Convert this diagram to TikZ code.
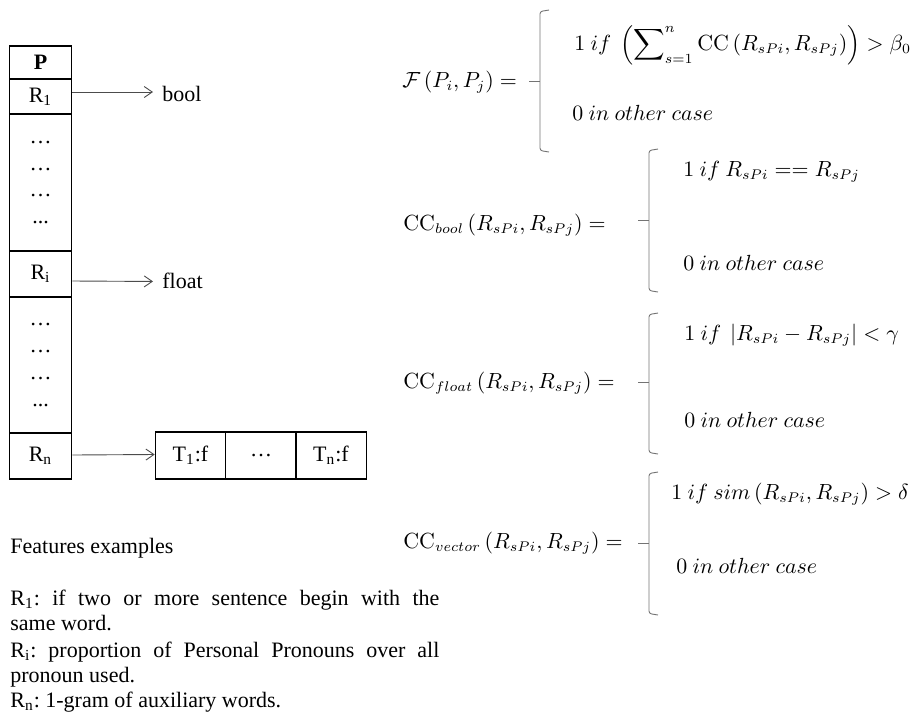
\documentclass[tikz,border=0pt]{standalone}
\usepackage{amsmath}
\usepackage[no-math]{fontspec}
\setmainfont{Liberation Serif}
\usetikzlibrary{arrows.meta}
\frenchspacing
\newcommand\mybrk[4]{%
  \draw[brk] (#1+9,#2) -- (#1,#2+1.5) -- (#1,#4-1.5) -- (#1+9,#4);
  \draw[brk] (#1-11,#3) -- (#1,#3);}
\newcommand\RS[1]{R\textsubscript{#1}}
\begin{document}
\begin{tikzpicture}[x=0.5pt,y=-0.5pt,
  font=\fontsize{11}{13}\selectfont,
  cell/.style={draw, line width=0.6pt, inner sep=0, minimum width=31.2pt},
  tcell/.style={draw, line width=0.6pt, inner sep=0, minimum width=35.2pt, minimum height=23.5pt},
  arr/.style={draw=black!70, line width=0.45pt, -{Straight Barb[length=4pt,width=5.5pt]}},
  brk/.style={draw=black!55, line width=0.45pt, rounded corners=1.2pt},
  eq/.style={anchor=west, inner sep=0, font=\fontsize{10.5}{12.5}\selectfont},
  lbl/.style={anchor=west, inner sep=0},
  txt/.style={anchor=base west, inner sep=0}]
\useasboundingbox (0,0) rectangle (917,719);
% left table
\node[cell, minimum height=16.5pt, font=\fontsize{11}{13}\selectfont\bfseries] (P) at (40.5,62.5) {P};
\node[cell, minimum height=17.5pt] (R1) at (40.5,96.5) {\RS{1}};
\node[cell, minimum height=68.5pt, align=center, font=\fontsize{11}{13.35}\selectfont] (D1) at (40.5,182.5) {\ldots\\\ldots\\\ldots\\...};
\node[cell, minimum height=23pt] (Ri) at (40.5,274) {\RS{i}};
\node[cell, minimum height=68.3pt, align=center, font=\fontsize{11}{13.35}\selectfont] (D2) at (40.5,365) {\ldots\\\ldots\\\ldots\\...};
\node[cell, minimum height=23pt] (Rn) at (40.5,456) {\RS{n}};
% type labels
\node[lbl] (bool) at (162,94) {bool};
\node[lbl] (float) at (162,281) {float};
\node[tcell] (T1) at (190.5,455.5) {T\textsubscript{1}:f};
\node[tcell] (T2) at (261,455.5) {\ldots};
\node[tcell] (T3) at (331,455.5) {T\textsubscript{n}:f};
\draw[arr, shorten >=4.5pt] ([yshift=2.25pt]R1.east) -- ([yshift=1pt]bool.west);
\draw[arr, shorten >=4.5pt] ([yshift=-3.5pt]Ri.east) -- ([yshift=-0.25pt]float.west);
\draw[arr] ([yshift=0.5pt]Rn.east) -- ([yshift=0.5pt]T1.west);
% bottom text
\node[txt] (fe) at (10,553) {Features examples};
\node[txt] (l1) at (10,605) {\makebox[214.5pt][s]{\RS{1}: if two or more sentence begin with the}};
\node[txt] (l2) at (10,630) {same word.};
\node[txt] (l3) at (10,657) {\makebox[214.5pt][s]{\RS{i}: proportion of Personal Pronouns over all}};
\node[txt] (l4) at (10,682) {pronoun used.};
\node[txt] (l5) at (10,707) {\RS{n}: 1-gram of auxiliary words.};
% formulas
\node[eq] (F) at (402,82) {$\mathcal{F}\left(P_i,P_j\right)=$};
\mybrk{540}{10}{81}{152}
\node[eq] (F1) at (574,45) {$1\ if\ \left(\displaystyle\sum\nolimits_{s=1}^{n}\mathrm{CC}\left(R_{sPi},R_{sPj}\right)\right)>\beta_0$};
\node[eq] (F2) at (572,113) {$0\ in\ other\ case$};
\node[eq] (CB) at (403,225) {$\mathrm{CC}_{bool}\left(R_{sPi},R_{sPj}\right)=$};
\mybrk{649}{149}{220}{292}
\node[eq] (CB1) at (683,172) {$1\ if\ R_{sPi}\mathrel{==}R_{sPj}$};
\node[eq] (CB2) at (683,263) {$0\ in\ other\ case$};
\node[eq] (CF) at (403,383) {$\mathrm{CC}_{float}\left(R_{sPi},R_{sPj}\right)=$};
\mybrk{649}{313}{382}{454}
\node[eq] (CF1) at (684,335) {$1\ if\ \left|R_{sPi}-R_{sPj}\right|<\gamma$};
\node[eq] (CF2) at (684,420) {$0\ in\ other\ case$};
\node[eq] (CV) at (403,543) {$\mathrm{CC}_{vector}\left(R_{sPi},R_{sPj}\right)=$};
\mybrk{649}{472}{543}{615}
\node[eq] (CV1) at (671,494) {$1\ if\ sim\left(R_{sPi},R_{sPj}\right)>\delta$};
\node[eq] (CV2) at (676,566) {$0\ in\ other\ case$};
\end{tikzpicture}
\end{document}
